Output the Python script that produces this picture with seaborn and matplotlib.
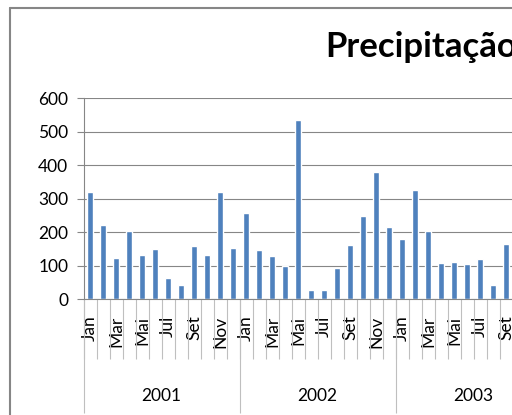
import matplotlib
matplotlib.use("Agg")
import matplotlib.pyplot as plt
from matplotlib.lines import Line2D
import seaborn as sns
import pandas as pd
import numpy as np

# ---- data (chart is cropped after Sep 2003) ----
months = ["Jan", "Fev", "Mar", "Abr", "Mai", "Jun", "Jul", "Ago", "Set", "Out", "Nov", "Dez"]
years = ["2001", "2002", "2003"]
values_2001 = [320, 221, 122, 203, 131, 149, 62, 43, 159, 131, 320, 152]
values_2002 = [257, 146, 128, 99, 535, 28, 28, 92, 160, 248, 379, 215]
values_2003 = [178, 327, 203, 107, 110, 105, 119, 43, 165]
title = "Precipitação"

rows = []
for yr, vals in zip(years, [values_2001, values_2002, values_2003]):
    for m, v in zip(months, vals):
        rows.append({"key": f"{yr}-{m}", "month": m, "year": yr, "value": v})
df = pd.DataFrame(rows)

sns.set_theme(style="white")
plt.rcParams["font.family"] = ["Lato", "DejaVu Sans"]

W, H = 512, 415
fig = plt.figure(figsize=(W / 100, H / 100), dpi=100)
fig.patch.set_facecolor("white")

left_px, bottom_px, top_px = 83.5, 299, 98.3
month_px = 13.0
n_total = len(months) * len(years)
ax = fig.add_axes([left_px / W, (H - bottom_px) / H,
                   n_total * month_px / W, (bottom_px - top_px) / H])

sns.barplot(data=df, x="key", y="value", order=list(df["key"]),
            color="#4F81BD", saturation=1, width=0.43, ax=ax)

grid_c = "#868686"
fs = 12.5
ax.set_ylim(0, 600)
ax.set_yticks(np.arange(0, 601, 100))
ax.yaxis.grid(True, color=grid_c, linewidth=0.8)
ax.set_axisbelow(True)
ax.set_xlim(-0.5, n_total - 0.5)
ax.set_xlabel("")
ax.set_ylabel("")
for s in ["top", "right"]:
    ax.spines[s].set_visible(False)
ax.spines["left"].set_color(grid_c)
ax.spines["left"].set_linewidth(0.8)
ax.spines["bottom"].set_color(grid_c)
ax.spines["bottom"].set_linewidth(0.8)

ax.tick_params(axis="y", length=5, width=0.8, color=grid_c, labelsize=fs,
               pad=6, labelcolor="black", left=True)

# month labels (every other one) and month separators
n = len(df)
ax.set_xticks(range(n))
ax.set_xticklabels([m if i % 2 == 0 else "" for i, m in enumerate(df["month"])],
                   rotation=90, fontsize=fs, color="black")
ax.tick_params(axis="x", which="major", length=0, pad=12)
ax.set_xticks(np.arange(-0.5, n_total, 1), minor=True)
ax.tick_params(axis="x", which="minor", length=43, width=0.8, color="#BFBFBF",
               bottom=True)

# year labels and separators
sec = ax.secondary_xaxis("bottom")
sec.set_xticks([i * 12 + 5.5 for i in range(len(years))])
sec.set_xticklabels(years, fontsize=fs, color="black")
sec.tick_params(axis="x", which="major", length=0, pad=64)
sec.set_xticks([i * 12 - 0.5 for i in range(len(years) + 1)], minor=True)
sec.tick_params(axis="x", which="minor", length=82, width=0.8, color="#BFBFBF")
sec.spines["bottom"].set_visible(False)

# title (cropped in reference)
fig.text(325 / W, 1 - 57 / H, title, fontsize=25, fontweight="bold",
         ha="left", va="baseline", color="black")

# chart-area border (left and top)
fig.add_artist(Line2D([10 / W, 10 / W], [0, 1 - 8 / H], color=grid_c, linewidth=1.5))
fig.add_artist(Line2D([10 / W, 1], [1 - 8 / H, 1 - 8 / H], color=grid_c, linewidth=1.5))

fig.savefig("out.png", dpi=100)
